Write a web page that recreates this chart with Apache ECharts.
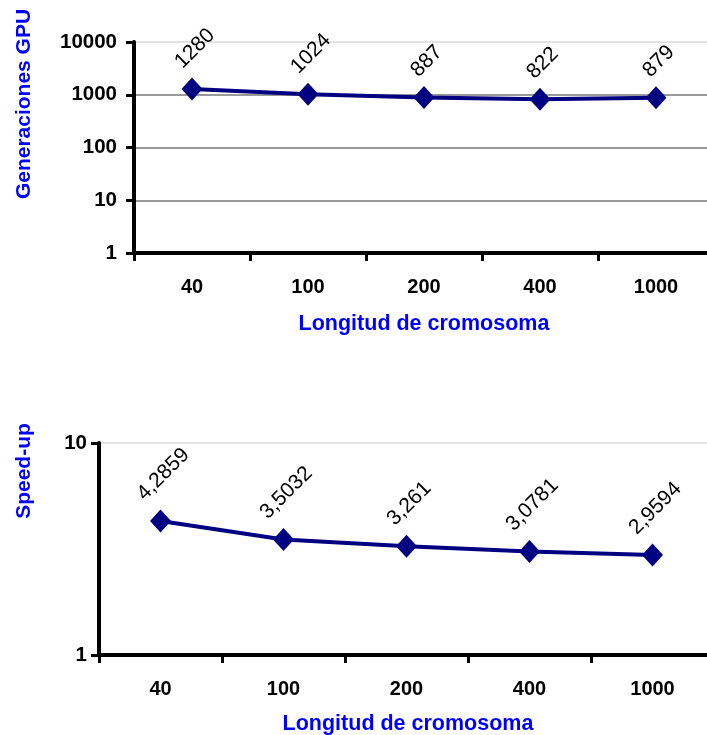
<!DOCTYPE html>
<html>
<head>
<meta charset="utf-8">
<script src="https://cdn.jsdelivr.net/npm/echarts@6/dist/echarts.min.js"></script>
<style>
html,body{margin:0;padding:0;background:#fff;overflow:hidden;}
#chart{width:730px;height:735px;}
</style>
</head>
<body>
<div id="chart"></div>
<script>
var categories = ['40', '100', '200', '400', '1000'];
var generaciones = [1280, 1024, 887, 822, 879];
var speedup = [4.2859, 3.5032, 3.261, 3.0781, 2.9594];
var xTitle = 'Longitud de cromosoma';
var yTitleTop = 'Generaciones GPU';
var yTitleBottom = 'Speed-up';

var FONT = '"Liberation Sans", Arial, sans-serif';
var LABEL_SIZE = 21;
var ctx = document.createElement('canvas').getContext('2d');
ctx.font = LABEL_SIZE + 'px ' + FONT;

function fmt(v) { return String(v).replace('.', ','); }

function labelled(values) {
  return values.map(function (v) {
    var w = ctx.measureText(fmt(v)).width;
    var half = (w + LABEL_SIZE) * 0.7071 / 2;
    return {
      value: v,
      label: { distance: 5 + half }
    };
  });
}

var chart = echarts.init(document.getElementById('chart'));

function xAxisCfg(gridIndex) {
  return {
    type: 'category', gridIndex: gridIndex, data: categories,
    boundaryGap: true,
    axisLine: { lineStyle: { color: '#000', width: 4 } },
    axisTick: { show: true, length: 8, lineStyle: { color: '#000', width: 3 } },
    axisLabel: { color: '#000', fontFamily: FONT, fontWeight: 'bold', fontSize: 20, margin: 24 },
    splitLine: { show: false }
  };
}
function yAxisCfg(gridIndex, max, colors, margin) {
  return {
    type: 'log', logBase: 10, gridIndex: gridIndex, min: 1, max: max,
    axisLine: { show: true, lineStyle: { color: '#000', width: 4 } },
    axisTick: { show: true, length: 8, lineStyle: { color: '#000', width: 3 } },
    axisLabel: { color: '#000', fontFamily: FONT, fontWeight: 'bold', fontSize: 20.5, margin: margin,
      formatter: function (v) { return String(Math.round(v)); } },
    splitLine: { show: true, lineStyle: { color: colors, width: 2 } },
    minorTick: { show: false }
  };
}
function seriesCfg(idx, values) {
  return {
    type: 'line', xAxisIndex: idx, yAxisIndex: idx,
    data: labelled(values),
    symbol: 'diamond', symbolSize: [21, 23],
    itemStyle: { color: '#000080' },
    lineStyle: { color: '#000080', width: 4 },
    label: {
      show: true, position: 'top', rotate: 45, offset: [2, 2],
      align: 'center', verticalAlign: 'middle',
      color: '#000', fontFamily: FONT, fontSize: LABEL_SIZE,
      formatter: function (p) { return fmt(p.value); }
    },
    animation: false
  };
}

var option = {
  animation: false,
  backgroundColor: '#fff',
  grid: [
    { left: 134, top: 42, width: 580, height: 211, containLabel: false },
    { left: 99, top: 443, width: 615, height: 212, containLabel: false }
  ],
  xAxis: [xAxisCfg(0), xAxisCfg(1)],
  yAxis: [
    yAxisCfg(0, 10000, ['#999', '#999', '#999', '#999', '#e2e2e2'], 17),
    yAxisCfg(1, 10, ['#999', '#e2e2e2'], 12)
  ],
  series: [seriesCfg(0, generaciones), seriesCfg(1, speedup)],
  graphic: [
    { type: 'text', x: 24, y: 104, rotation: Math.PI / 2,
      style: { text: yTitleTop, fill: '#0000ff', font: 'bold 21px ' + FONT, align: 'center', verticalAlign: 'middle' } },
    { type: 'text', x: 24, y: 471, rotation: Math.PI / 2,
      style: { text: yTitleBottom, fill: '#0000ff', font: 'bold 21px ' + FONT, align: 'center', verticalAlign: 'middle' } },
    { type: 'text', x: 424, y: 324,
      style: { text: xTitle, fill: '#0000ff', font: 'bold 21.5px ' + FONT, align: 'center', verticalAlign: 'middle' } },
    { type: 'text', x: 408, y: 724,
      style: { text: xTitle, fill: '#0000ff', font: 'bold 21.5px ' + FONT, align: 'center', verticalAlign: 'middle' } }
  ]
};
chart.setOption(option);
</script>
</body>
</html>
